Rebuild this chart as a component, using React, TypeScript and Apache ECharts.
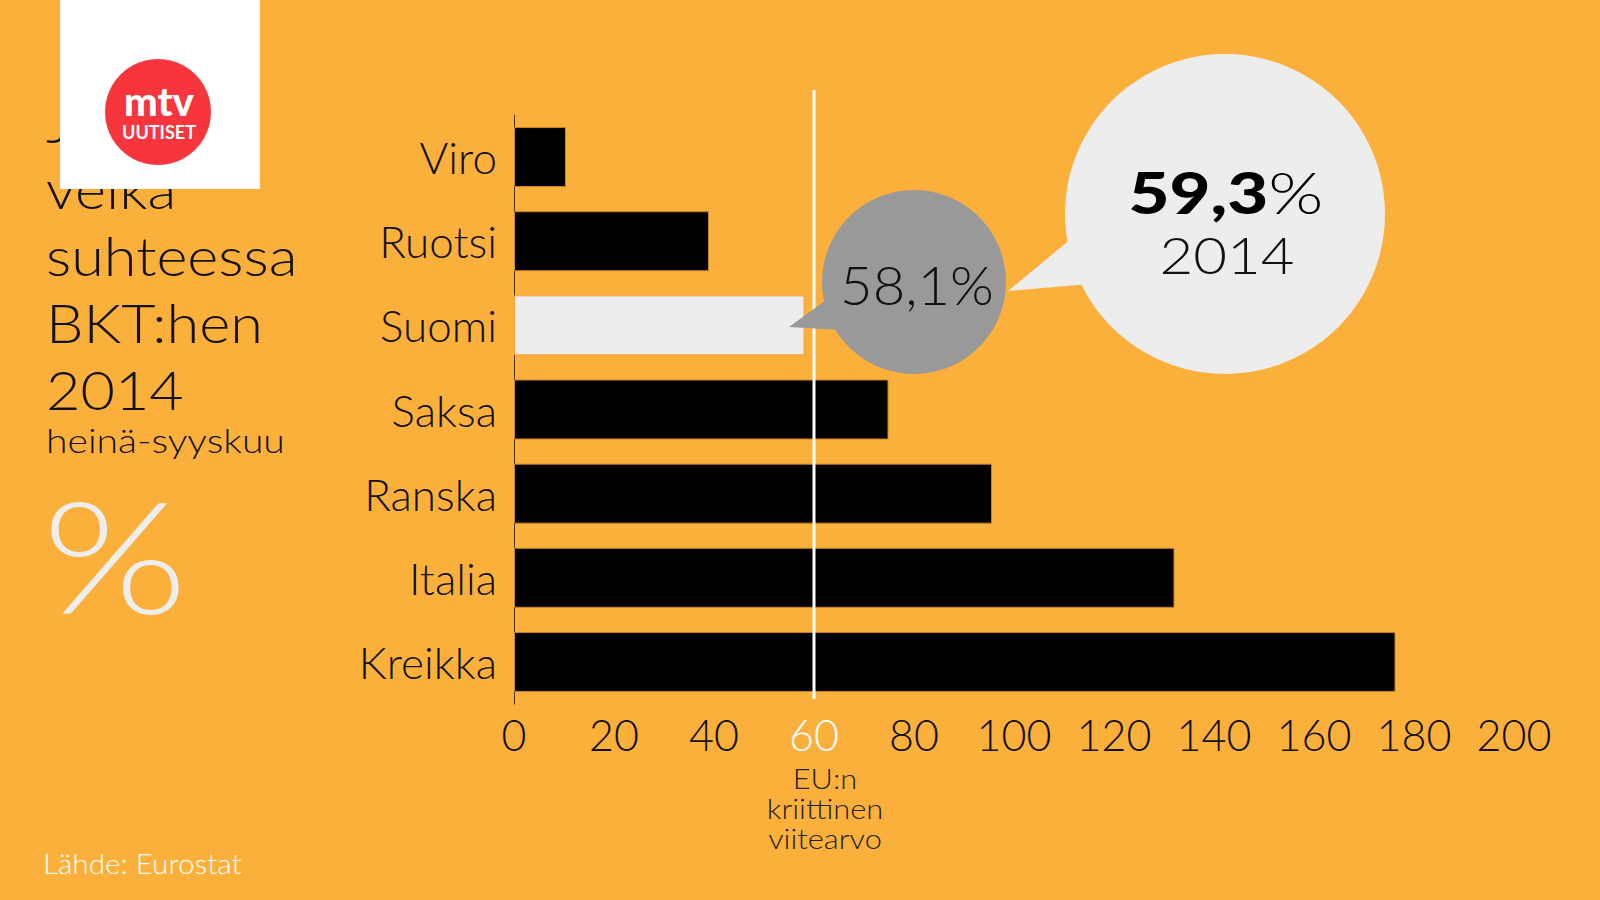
import React, { useEffect, useRef } from "react";
import * as echarts from "echarts";

const categories = ["Viro", "Ruotsi", "Suomi", "Saksa", "Ranska", "Italia", "Kreikka"];
const debtValues = [10.4, 39.0, 58.1, 74.9, 95.6, 132.1, 176.3];
const highlightCategory = "Suomi";
const axisMin = 0;
const axisMax = 200;
const axisInterval = 20;
const referenceValue = 60;
const titleLines = ["Julkinen", "velka", "suhteessa", "BKT:hen", "2014"];
const subtitle = "heinä-syyskuu";
const sourceText = "Lähde: Eurostat";
const referenceLabel = ["EU:n", "kriittinen", "viitearvo"];
const finlandLabel = "58,1%";
const calloutValue = "59,3";
const calloutYear = "2014";

const FONT = "Lato, 'Noto Sans', sans-serif";
const BG = "#FBB03B";

function buildGraphic(refX: number) {
  const els: any[] = [];
  // title lines
  const titleCenters = [122, 188, 255, 322, 389];
  titleLines.forEach((t, i) => {
    els.push({
      type: "text",
      z: 10,
      x: 46,
      y: titleCenters[i],
      scaleX: 1.1,
      style: { text: t, fontSize: 54, fontWeight: 300, fontFamily: FONT, fill: "#111", verticalAlign: "middle", align: "left" },
    });
  });
  els.push({
    type: "text", z: 10, x: 46, y: 440, scaleX: 1.15,
    style: { text: subtitle, fontSize: 34, fontWeight: 300, fontFamily: FONT, fill: "#111", verticalAlign: "middle", align: "left" },
  });
  els.push({
    type: "text", z: 10, x: 42, y: 554, scaleX: 1.2,
    style: { text: "%", fontSize: 156, fontWeight: 300, fontFamily: FONT, fill: "#EEEEEE", verticalAlign: "middle", align: "left" },
  });
  els.push({
    type: "text", z: 10, x: 43, y: 863, scaleX: 1.06,
    style: { text: sourceText, fontSize: 28, fontWeight: 300, fontFamily: FONT, fill: "#FFFFFF", verticalAlign: "middle", align: "left" },
  });
  // logo
  els.push({ type: "rect", z: 20, shape: { x: 60, y: 0, width: 200, height: 189 }, style: { fill: "#FFFFFF" } });
  els.push({ type: "circle", z: 21, shape: { cx: 158, cy: 112, r: 53 }, style: { fill: "#F6363C" } });
  els.push({
    type: "text", z: 22, x: 159, y: 101,
    style: { text: "mtv", fontSize: 40, lineHeight: 30, fontWeight: 900, fontFamily: FONT, fill: "#FFFFFF", verticalAlign: "middle", align: "center" },
  });
  els.push({
    type: "text", z: 22, x: 159, y: 132,
    style: { text: "UUTISET", fontSize: 18, lineHeight: 18, fontWeight: 700, fontFamily: FONT, fill: "#FFFFFF", verticalAlign: "middle", align: "center" },
  });
  // reference line
  els.push({ type: "line", z: 50, shape: { x1: refX, y1: 90, x2: refX, y2: 699 }, style: { stroke: "#FFFFFF", lineWidth: 3 } });
  referenceLabel.forEach((t, i) => {
    els.push({
      type: "text", z: 50, x: refX + 11, y: 778 + i * 30, scaleX: 1.1,
      style: { text: t, fontSize: 28, fontWeight: 300, fontFamily: FONT, fill: "#222", verticalAlign: "middle", align: "center" },
    });
  });
  // gray bubble
  els.push({ type: "polygon", z: 60, shape: { points: [[789, 327], [826, 300], [842, 330]] }, style: { fill: "#999999" } });
  els.push({ type: "circle", z: 60, shape: { cx: 914, cy: 282, r: 92 }, style: { fill: "#999999" } });
  els.push({
    type: "text", z: 61, x: 917, y: 285, scaleX: 1.06,
    style: { text: finlandLabel, fontSize: 53, fontWeight: 300, fontFamily: FONT, fill: "#111", verticalAlign: "middle", align: "center" },
  });
  // white bubble
  els.push({ type: "polygon", z: 60, shape: { points: [[1008, 291], [1072, 238], [1090, 284]] }, style: { fill: "#EDEDED" } });
  els.push({ type: "circle", z: 60, shape: { cx: 1225, cy: 214, r: 160 }, style: { fill: "#EDEDED" } });
  els.push({
    type: "text", z: 61, x: 1226, y: 192, scaleX: 1.22,
    style: {
      text: `{b|${calloutValue}}{l|%}`,
      align: "center", verticalAlign: "middle",
      rich: {
        b: { fontSize: 58, fontWeight: 900, fontFamily: FONT, fill: "#000" },
        l: { fontSize: 58, fontWeight: 300, fontFamily: FONT, fill: "#000" },
      },
    },
  });
  els.push({
    type: "text", z: 61, x: 1227, y: 254, scaleX: 1.12,
    style: { text: calloutYear, fontSize: 52, fontWeight: 300, fontFamily: FONT, fill: "#111", verticalAlign: "middle", align: "center" },
  });
  return els;
}

export default function App() {
  const ref = useRef<HTMLDivElement>(null);
  useEffect(() => {
    if (!ref.current) return;
    const chart = echarts.init(ref.current, null, { renderer: "svg" });
    const option: any = {
      animation: false,
      backgroundColor: BG,
      grid: { left: 514, right: 86, top: 115, bottom: 196, containLabel: false },
      xAxis: {
        type: "value",
        min: axisMin,
        max: axisMax,
        interval: axisInterval,
        axisLine: { show: false },
        axisTick: { show: false },
        splitLine: { show: false },
        axisLabel: {
          margin: 9,
          formatter: (v: number) => (v === referenceValue ? `{w|${v}}` : `{d|${v}}`),
          rich: {
            w: { color: "#FFFFFF", fontSize: 43, fontWeight: 300, fontFamily: FONT },
            d: { color: "#111111", fontSize: 43, fontWeight: 300, fontFamily: FONT },
          },
        },
      },
      yAxis: {
        type: "category",
        inverse: true,
        data: categories,
        axisLine: { show: true, lineStyle: { color: "#4a3510", width: 1 } },
        axisTick: { show: false },
        axisLabel: { margin: 17, color: "#111", fontSize: 44, fontWeight: 300, fontFamily: FONT },
      },
      series: [
        {
          type: "bar",
          barWidth: 60,
          data: categories.map((c, i) => ({
            value: debtValues[i],
            itemStyle: {
              color: c === highlightCategory ? "#EDEDED" : "#000000",
              borderColor: c === highlightCategory ? "#F4A03A" : "#C8861E",
              borderWidth: 1,
            },
          })),
        },
      ],
    };
    chart.setOption(option);
    const refX = chart.convertToPixel({ xAxisIndex: 0 }, referenceValue) as number;
    chart.setOption({ graphic: buildGraphic(refX) });
    return () => chart.dispose();
  }, []);
  return <div ref={ref} style={{ position: "fixed", left: 0, top: 0, width: 1600, height: 900 }} />;
}
